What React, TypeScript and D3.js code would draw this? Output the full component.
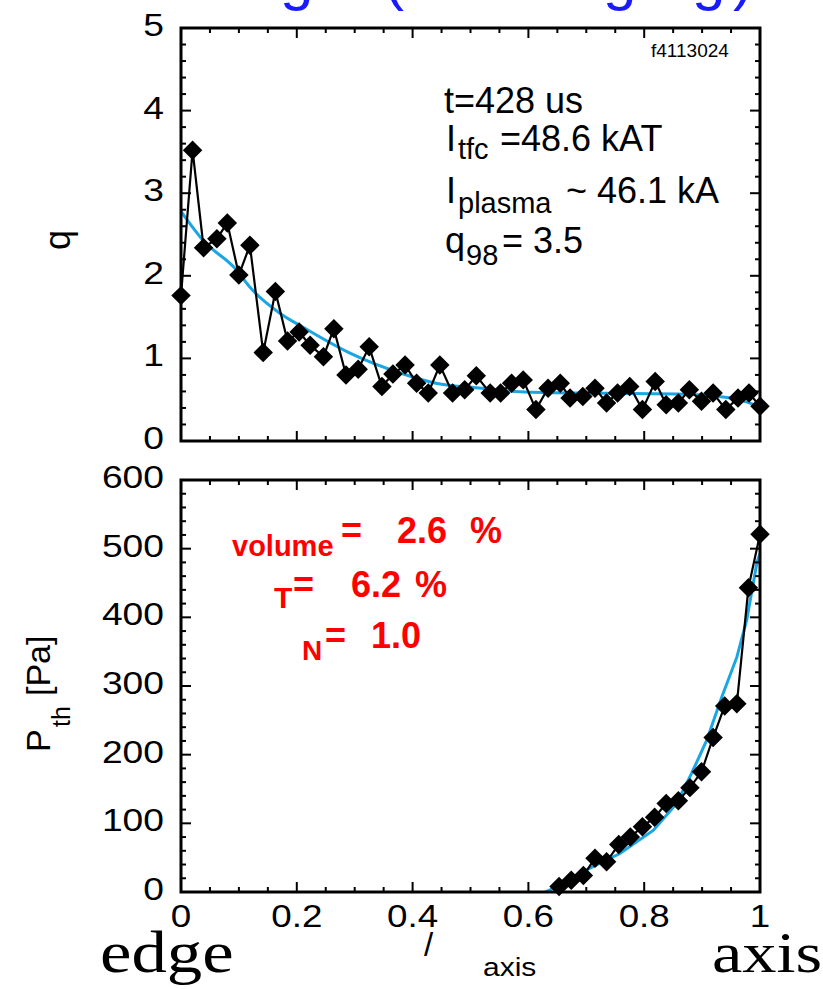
import React from 'react';
import * as d3 from 'd3';

// ---- data ----
const qX = [0, 0.02, 0.039, 0.062, 0.08, 0.1, 0.119, 0.142, 0.163, 0.184, 0.204, 0.223, 0.246, 0.264, 0.285, 0.306, 0.325, 0.347, 0.366, 0.387, 0.407, 0.427, 0.447, 0.469, 0.49, 0.51, 0.534, 0.552, 0.571, 0.591, 0.613, 0.634, 0.655, 0.672, 0.694, 0.715, 0.735, 0.754, 0.775, 0.797, 0.819, 0.838, 0.859, 0.878, 0.899, 0.919, 0.941, 0.962, 0.981, 1.0];
const qY = [1.76, 3.52, 2.34, 2.45, 2.64, 2.01, 2.37, 1.07, 1.81, 1.21, 1.32, 1.16, 1.02, 1.36, 0.8, 0.87, 1.14, 0.66, 0.81, 0.92, 0.7, 0.58, 0.92, 0.58, 0.62, 0.79, 0.58, 0.58, 0.7, 0.74, 0.38, 0.64, 0.7, 0.52, 0.54, 0.64, 0.46, 0.58, 0.66, 0.38, 0.72, 0.44, 0.46, 0.62, 0.48, 0.58, 0.38, 0.52, 0.58, 0.42];
const qFitX = [0, 0.038, 0.096, 0.118, 0.17, 0.21, 0.29, 0.38, 0.44, 0.52, 0.577, 0.686, 0.857, 0.95, 0.99];
const qFitY = [2.78, 2.43, 2.07, 1.87, 1.55, 1.38, 1.07, 0.82, 0.7, 0.64, 0.6, 0.58, 0.57, 0.52, 0.44];

const pX = [0.653, 0.674, 0.695, 0.715, 0.735, 0.756, 0.776, 0.797, 0.818, 0.838, 0.859, 0.879, 0.899, 0.919, 0.939, 0.96, 0.98, 1.0];
const pY = [8, 17, 24, 49, 44, 69, 80, 95, 109, 129, 133, 152, 175, 225, 271, 274, 443, 521];
const pFitX = [0.629, 0.66, 0.7, 0.758, 0.816, 0.856, 0.882, 0.908, 0.934, 0.96, 0.977, 0.995, 1.0];
const pFitY = [0, 12, 32, 56, 90, 129, 173, 221, 284, 342, 396, 481, 492];

const xTicks = [0, 0.2, 0.4, 0.6, 0.8, 1];
const xTickLabels = ['0', '0.2', '0.4', '0.6', '0.8', '1'];
const qTicks = [0, 1, 2, 3, 4, 5];
const pTicks = [0, 100, 200, 300, 400, 500, 600];

const W = 823;
const H = 989;
const SANS = '"Liberation Sans", Arial, Helvetica, sans-serif';
const SERIF = '"Liberation Serif", "Times New Roman", serif';
const BLUE = '#1aa6e4';

const x = d3.scaleLinear().domain([0, 1]).range([181, 760]);
const yQ = d3.scaleLinear().domain([0, 5]).range([441, 28]);
const yP = d3.scaleLinear().domain([0, 600]).range([892, 480]);

const diamond = d3.symbol(d3.symbolSquare, 190)() as string;

function Frame({ y, yMajor, yMinorStep, yMax }: { y: d3.ScaleLinear<number, number>; yMajor: number[]; yMinorStep: number; yMax: number }) {
  const [y0, y1] = y.range();
  const x0 = x(0), x1 = x(1);
  const xMinor = d3.range(0, 1.0001, 0.05);
  const yMinor = d3.range(0, yMax + 1e-6, yMinorStep);
  const maj = 10, mn = 5;
  const isMajX = (v: number) => xTicks.some(t => Math.abs(t - v) < 1e-6);
  const isMajY = (v: number) => yMajor.some(t => Math.abs(t - v) < 1e-6);
  return (
    <g stroke="#000" fill="none">
      {xMinor.map((v, i) => {
        const L = isMajX(v) ? maj : mn;
        return (
          <g key={'x' + i} strokeWidth={2}>
            <line x1={x(v)} x2={x(v)} y1={y0} y2={y0 - L} />
            <line x1={x(v)} x2={x(v)} y1={y1} y2={y1 + L} />
          </g>
        );
      })}
      {yMinor.map((v, i) => {
        const L = isMajY(v) ? maj : mn;
        return (
          <g key={'y' + i} strokeWidth={2}>
            <line x1={x0} x2={x0 + L} y1={y(v)} y2={y(v)} />
            <line x1={x1} x2={x1 - L} y1={y(v)} y2={y(v)} />
          </g>
        );
      })}
      <rect x={x0} y={y1} width={x1 - x0} height={y0 - y1} strokeWidth={3} />
    </g>
  );
}

function StretchText({ x: tx, y: ty, sx = 1.2, anchor = 'start', size, family = SANS, fill = '#000', weight = 'normal', children }: any) {
  return (
    <text transform={`translate(${tx},${ty}) scale(${sx},1)`} textAnchor={anchor} fontSize={size} fontFamily={family} fill={fill} fontWeight={weight}>
      {children}
    </text>
  );
}

export default function App() {
  const qPts = qX.map((v, i) => [v, qY[i]] as [number, number]);
  const qFit = qFitX.map((v, i) => [v, qFitY[i]] as [number, number]);
  const pPts = pX.map((v, i) => [v, pY[i]] as [number, number]);
  const pFit = pFitX.map((v, i) => [v, pFitY[i]] as [number, number]);

  const lineQ = d3.line<[number, number]>().x(d => x(d[0])).y(d => yQ(d[1]));
  const lineQFit = d3.line<[number, number]>().x(d => x(d[0])).y(d => yQ(d[1])).curve(d3.curveMonotoneX);
  const lineP = d3.line<[number, number]>().x(d => x(d[0])).y(d => yP(d[1]));

  return (
    <svg width={W} height={H} viewBox={`0 0 ${W} ${H}`} style={{ position: 'absolute', left: 0, top: 0, background: '#fff' }}>
      <rect x={0} y={0} width={W} height={H} fill="#fff" />

      {/* cut-off blue title (only the descenders remain visible) */}
      <g fill="#1a1aff" fontFamily={SANS} fontSize={60}>
        <text x={280} y={-1}>g</text>
        <text x={384} y={-1}>(</text>
        <text x={603} y={-1}>g</text>
        <text x={692} y={-1}>g</text>
        <text x={733} y={-1}>)</text>
      </g>

      {/* ---------- top panel ---------- */}
      <path d={lineQFit(qFit) as string} fill="none" stroke={BLUE} strokeWidth={3} />
      <path d={lineQ(qPts) as string} fill="none" stroke="#000" strokeWidth={2.2} />
      {qPts.map((d, i) => (
        <path key={'q' + i} d={diamond} transform={`translate(${x(d[0])},${yQ(d[1])}) rotate(45)`} fill="#000" />
      ))}
      <Frame y={yQ} yMajor={qTicks} yMinorStep={0.2} yMax={5} />
      {qTicks.map(t => (
        <StretchText key={'qt' + t} x={164} y={yQ(t) + 8} anchor="end" size={31}>{String(t)}</StretchText>
      ))}
      <text transform="translate(70,240) rotate(-90)" textAnchor="middle" fontFamily={SANS} fontSize={36}>q</text>

      <text x={651} y={57} fontFamily={SANS} fontSize={19}>f4113024</text>

      <g fontFamily={SANS} fill="#000">
        <text x={444} y={113} fontSize={36}>t=428 us</text>
        <text x={446} y={151} fontSize={36}>I</text>
        <text x={458} y={159} fontSize={29}>tfc</text>
        <text x={500} y={151} fontSize={36}> =48.6 kAT</text>
        <text x={446} y={203} fontSize={36}>I</text>
        <text x={458} y={213} fontSize={29}>plasma</text>
        <text x={566} y={203} fontSize={36}>~ 46.1 kA</text>
        <text x={445} y={253} fontSize={36}>q</text>
        <text x={466} y={265} fontSize={29}>98</text>
        <text x={502} y={253} fontSize={36}>= 3.5</text>
      </g>

      {/* ---------- bottom panel ---------- */}
      <path d={lineP(pFit) as string} fill="none" stroke={BLUE} strokeWidth={3} />
      <path d={lineP(pPts) as string} fill="none" stroke="#000" strokeWidth={2.2} />
      {pPts.map((d, i) => (
        <path key={'p' + i} d={diamond} transform={`translate(${x(d[0])},${yP(d[1])}) rotate(45)`} fill="#000" />
      ))}
      <Frame y={yP} yMajor={pTicks} yMinorStep={20} yMax={600} />
      {pTicks.map(t => (
        <StretchText key={'pt' + t} x={164} y={yP(t) + 8} anchor="end" size={31}>{String(t)}</StretchText>
      ))}
      {xTicks.map((t, i) => (
        <StretchText key={'xt' + t} x={x(t)} y={927} anchor="middle" size={32} sx={1.15}>{xTickLabels[i]}</StretchText>
      ))}

      <g transform="translate(50,752) rotate(-90)" fontFamily={SANS} fill="#000">
        <text x={0} y={0} fontSize={34}>P</text>
        <text x={25} y={20} fontSize={25}>th</text>
        <text x={56} y={0} fontSize={34}>[Pa]</text>
      </g>

      <g fontFamily={SANS} fill="#ff0000" fontWeight="bold">
        <text x={232} y={556} fontSize={29}>volume</text>
        <text x={341} y={543} fontSize={36}>=</text>
        <text x={397} y={543} fontSize={36}>2.6</text>
        <text x={470} y={543} fontSize={36}>%</text>
        <text x={274} y={608} fontSize={30}>T</text>
        <text x={293} y={597} fontSize={36}>=</text>
        <text x={351} y={597} fontSize={36}>6.2</text>
        <text x={415} y={597} fontSize={36}>%</text>
        <text x={302} y={660} fontSize={28}>N</text>
        <text x={325} y={648} fontSize={36}>=</text>
        <text x={371} y={648} fontSize={36}>1.0</text>
      </g>

      {/* bottom labels */}
      <StretchText x={100} y={972} size={59} family={SERIF}>edge</StretchText>
      <StretchText x={712} y={972} size={57} family={SERIF}>axis</StretchText>
      <text x={424} y={956} fontFamily={SANS} fontSize={33}>/</text>
      <StretchText x={483} y={976} size={25}>axis</StretchText>
    </svg>
  );
}
